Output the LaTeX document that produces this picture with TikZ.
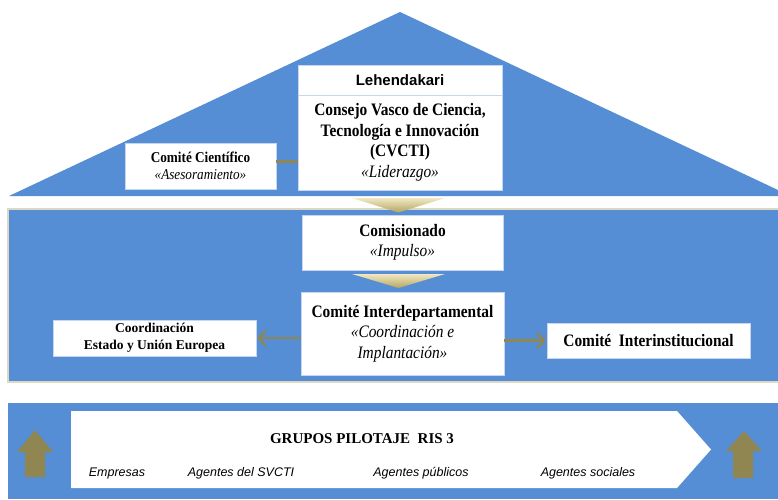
\documentclass[tikz,border=0pt]{standalone}
\usepackage{fontspec}
\setmainfont{Liberation Serif}
\setsansfont{Liberation Sans}
\newfontfamily\nserif[FakeStretch=0.88]{Liberation Serif}
\usetikzlibrary{arrows.meta}
\definecolor{rblue}{HTML}{558ED5}
\definecolor{rolive}{HTML}{8F8651}
\definecolor{rbeige}{HTML}{DDD8C4}
\definecolor{boxline}{HTML}{C5D6EE}
\definecolor{chevtop}{HTML}{F0E8C4}
\definecolor{chevbot}{HTML}{B5A45E}
\begin{document}
\begin{tikzpicture}[x=1pt,y=-1pt,
  wbox/.style={fill=white, draw=boxline, line width=0.6pt, inner sep=0pt, align=center},
  bigtext/.style={font=\nserif\fontsize{17.5}{20.5}\selectfont},
  midtext/.style={font=\nserif\fontsize{15}{17}\selectfont},
  coordtext/.style={font=\fontsize{13.5}{17}\selectfont\bfseries},
  agent/.style={font=\sffamily\itshape\fontsize{12.5}{15}\selectfont, anchor=base},
  link/.style={draw=rolive, line width=3pt},
  arr/.style={draw=rolive, line width=2.6pt, -{Straight Barb[length=7pt,width=15pt,line width=2.2pt]}},
  chev/.style={top color=chevtop, bottom color=chevbot},
  uparrow/.style={fill=rolive}
]
\useasboundingbox (0,0) rectangle (778,499);
\fill[white] (0,0) rectangle (778,499);

% roof
\fill[rblue] (9,196) -- (400,12) -- (778,190) -- (778,196) -- cycle;
% middle band
\fill[rblue] (8,209) rectangle (779,382);
\draw[rbeige, line width=1.6pt] (779,209) -- (8,209) -- (8,382) -- (779,382);
% bottom band
\fill[rblue] (8,403) rectangle (778,499);

% top boxes
\node[wbox, minimum width=204pt, minimum height=30pt,
      font=\sffamily\bfseries\fontsize{15}{18}\selectfont] (leh) at (400,80) {Lehendakari};
\node[wbox, bigtext, minimum width=204pt, minimum height=95pt] (cvcti) at (400,142.5)
  {\bfseries Consejo Vasco de Ciencia,\\ \bfseries Tecnología e Innovación\\ \bfseries (CVCTI)\\ \itshape «Liderazgo»};
\node[wbox, midtext, minimum width=151pt, minimum height=46pt] (cc) at (200.5,166)
  {\bfseries Comité Científico\\ \itshape «Asesoramiento»};
\draw[link] ([yshift=5pt]cc.east) -- ([yshift=5pt]cc.east -| cvcti.west);

% chevrons
\shade[chev] (352,198) -- (445,198) -- (398.5,212.5) -- cycle;
\shade[chev] (352,274) -- (445,274) -- (398.5,288) -- cycle;

% middle boxes
\node[wbox, bigtext, minimum width=201pt, minimum height=55pt] (com) at (402.5,242.5)
  {\bfseries Comisionado\\ \itshape «Impulso»};
\node[wbox, bigtext, minimum width=203pt, minimum height=83pt] (idep) at (402.5,333.5)
  {\bfseries Comité Interdepartamental\\ \itshape «Coordinación e\\ \itshape Implantación»};
\node[wbox, coordtext, minimum width=203pt, minimum height=36pt] (coord) at (154.5,338)
  {Coordinación\\ Estado y Unión Europea};
\node[wbox, bigtext, minimum width=203pt, minimum height=35pt] (ii) at (648.5,340.5)
  {\bfseries Comité~~Interinstitucional};
\draw[arr] (idep.west |- coord.east) -- ([xshift=1pt]coord.east);
\draw[arr] (idep.east |- ii.west) -- ([xshift=-1pt]ii.west);

% bottom
\fill[white] (71,411) -- (677,411) -- (711,449.5) -- (677,488) -- (71,488) -- cycle;
\node[anchor=base, font=\bfseries\fontsize{15}{18}\selectfont] (gtitle) at (362,443) {GRUPOS PILOTAJE~~RIS 3};
\node[agent] (a1) at (117,476) {Empresas};
\node[agent] (a2) at (241,476) {Agentes del SVCTI};
\node[agent] (a3) at (421,476) {Agentes públicos};
\node[agent] (a4) at (588,476) {Agentes sociales};

\fill[uparrow] (35,430) -- (53,452) -- (45,452) -- (45,477) -- (25,477) -- (25,452) -- (17,452) -- cycle;
\fill[uparrow] (744,431) -- (762,451) -- (753,451) -- (753,478) -- (733,478) -- (733,451) -- (726,451) -- cycle;
\end{tikzpicture}
\end{document}
